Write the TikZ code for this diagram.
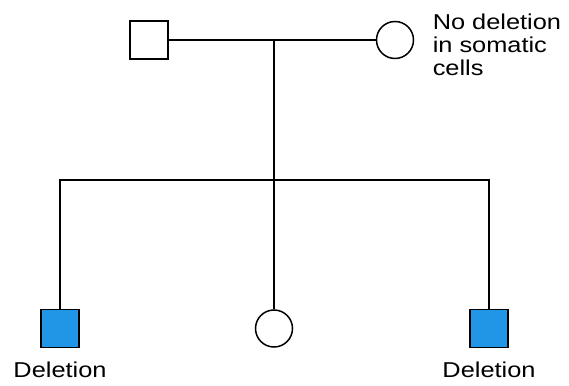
\documentclass[tikz,border=0pt]{standalone}
\usepackage{fontspec}
\setmainfont{Liberation Sans}[FakeStretch=1.18]
\definecolor{delblue}{HTML}{2196E6}
\begin{document}
\begin{tikzpicture}[x=1pt,y=1pt,
  line width=1.5pt,
  male/.style={draw=black,rectangle,minimum size=38pt,inner sep=0pt},
  female/.style={draw=black,circle,minimum size=37pt,inner sep=0pt},
  affected/.style={fill=delblue},
  lbl/.style={font=\fontsize{21.5}{23}\selectfont,inner sep=0pt}]
\useasboundingbox (0,0) rectangle (569,385);
\node[male] (f) at (149,345) {};
\node[female] (m) at (395,345) {};
\node[male,affected] (c1) at (60,56.5) {};
\node[female] (c2) at (274,56.5) {};
\node[male,affected] (c3) at (489,56.5) {};
\coordinate (j) at (274,345);
\coordinate (j2) at (274,205);
\draw (f) -- (m);
\draw (j) -- (c2.north);
\draw (c1.north) |- (j2) -| (c3.north);
\node[lbl,anchor=base west] (t1) at (432,355) {No deletion};
\node[lbl,anchor=base west] (t2) at (432,332) {in somatic};
\node[lbl,anchor=base west] (t3) at (432,309) {cells};
\node[lbl,anchor=base] (d1) at (60,8) {Deletion};
\node[lbl,anchor=base] (d2) at (489,8) {Deletion};
\end{tikzpicture}
\end{document}
